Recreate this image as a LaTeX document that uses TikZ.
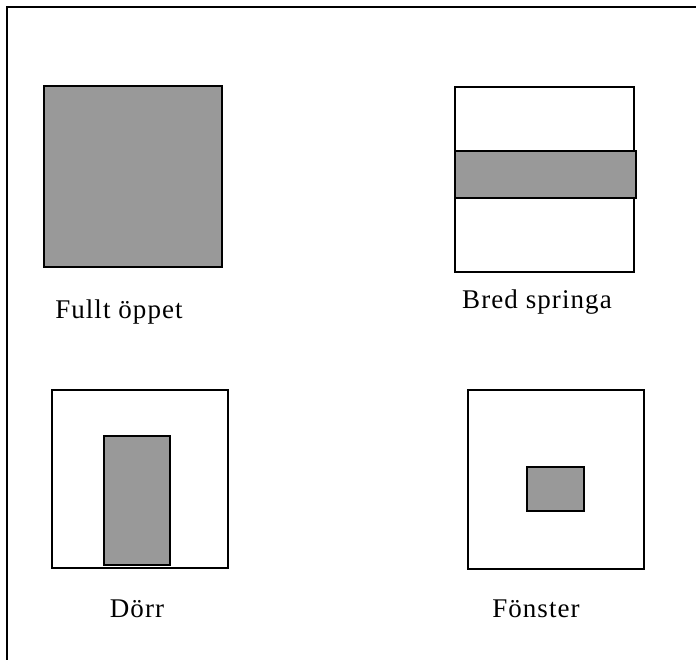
\documentclass[tikz,border=0pt]{standalone}
\usepackage{fontspec}
\setmainfont{Liberation Serif}
\newfontfamily\spacedfont[LetterSpace=4]{Liberation Serif}
\definecolor{opengray}{RGB}{153,153,153}

\begin{document}
\begin{tikzpicture}[x=1pt, y=-1pt, line width=1.6pt]
  \tikzset{
    wall/.style={draw=black, fill=white},
    hole/.style={draw=black, fill=opengray},
    caption/.style={font=\spacedfont\fontsize{27}{30}\selectfont, inner sep=0pt}
  }
  \useasboundingbox (0,0) rectangle (696,660);

  % Frame: only the top and left edges show
  \draw[line width=2pt] (7,660) -- (7,7) -- (696,7);

  % Fully open: the whole opening is a hole
  \draw[hole] (44,86) rectangle (222,267);
  \node[caption] (fullt) at (119,312) {Fullt öppet};

  % Wide slit: horizontal band across the wall
  \draw[wall] (455,87) rectangle (634,272);
  \draw[hole] (455,151) rectangle (636,198);
  \node[caption] (bred) at (537,302) {Bred springa};

  % Door: tall opening standing on the floor
  \draw[wall] (52,390) rectangle (228,568);
  \draw[hole] (104,436) rectangle (170,565);
  \node[caption] (dorr) at (137,609) {Dörr};

  % Window: small opening in the middle
  \draw[wall] (468,390) rectangle (644,569);
  \draw[hole] (527,467) rectangle (584,511);
  \node[caption] (fonster) at (536,609) {Fönster};
\end{tikzpicture}
\end{document}
